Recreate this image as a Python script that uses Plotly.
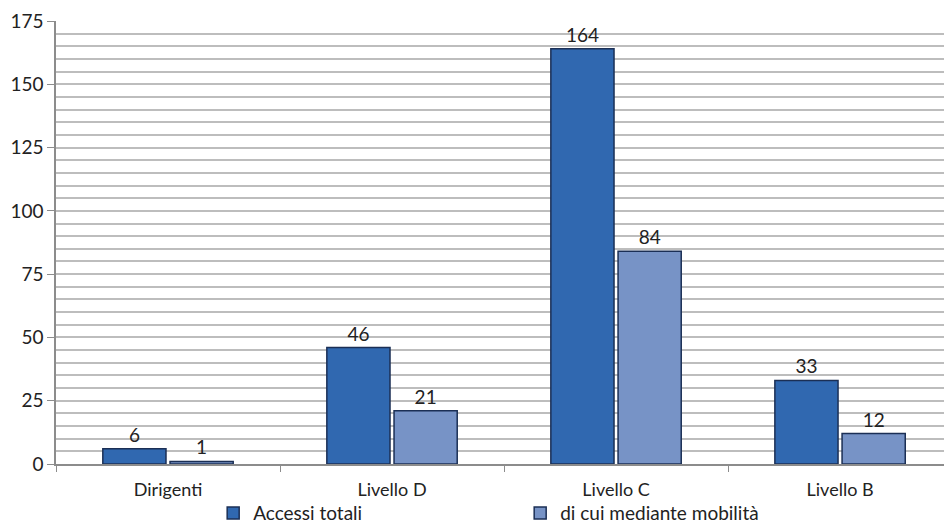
import plotly.graph_objects as go

categories = ["Dirigenti", "Livello D", "Livello C", "Livello B"]
accessi_totali = [6, 46, 164, 33]
mobilita = [1, 21, 84, 12]
series_names = ["Accessi totali", "di cui mediante mobilità"]
y_ticks = [0, 25, 50, 75, 100, 125, 150, 175]

FONT = "Lato, Open Sans, sans-serif"

fig = go.Figure()
fig.add_trace(go.Bar(
    x=categories, y=accessi_totali, name=series_names[0],
    text=accessi_totali, textposition="outside", cliponaxis=False,
    marker=dict(color="#3068B0", line=dict(color="#1B2F55", width=1.5)),
    textfont=dict(size=19, color="#222222"),
))
fig.add_trace(go.Bar(
    x=categories, y=mobilita, name=series_names[1],
    text=mobilita, textposition="outside", cliponaxis=False,
    marker=dict(color="#7793C6", line=dict(color="#1B2F55", width=1.5)),
    textfont=dict(size=19, color="#222222"),
))

fig.update_layout(
    width=944, height=523,
    margin=dict(l=56, r=0, t=21, b=59, autoexpand=False),
    paper_bgcolor="white", plot_bgcolor="white",
    font=dict(family=FONT, size=19, color="#222222"),
    barmode="group", bargap=0.40, bargroupgap=0.06,
    showlegend=True,
    legend=dict(orientation="h", x=0.177, xanchor="left", yref="paper", y=-0.111, yanchor="middle",
                bgcolor="rgba(0,0,0,0)",
                font=dict(size=19), traceorder="normal", itemwidth=30,
                entrywidth=262, entrywidthmode="pixels", tracegroupgap=0),
)
fig.update_yaxes(
    range=[0, 175], tickvals=y_ticks, showgrid=True, gridcolor="#BDBDBD", gridwidth=1.5,
    minor=dict(dtick=5, showgrid=True, gridcolor="#BDBDBD", gridwidth=1.5),
    showline=True, linecolor="#8C8C8C", linewidth=1.5,
    ticks="outside", ticklen=7, tickcolor="#8C8C8C", zeroline=False,
    tickfont=dict(size=19),
)
fig.update_xaxes(
    showline=True, linecolor="#8C8C8C", linewidth=1.5,
    ticks="outside", tickson="boundaries", ticklen=6, tickcolor="#8C8C8C",
    tickfont=dict(size=18), range=[-0.5, 3.464], ticklabelstandoff=9,
)

fig.write_html("out.html")
